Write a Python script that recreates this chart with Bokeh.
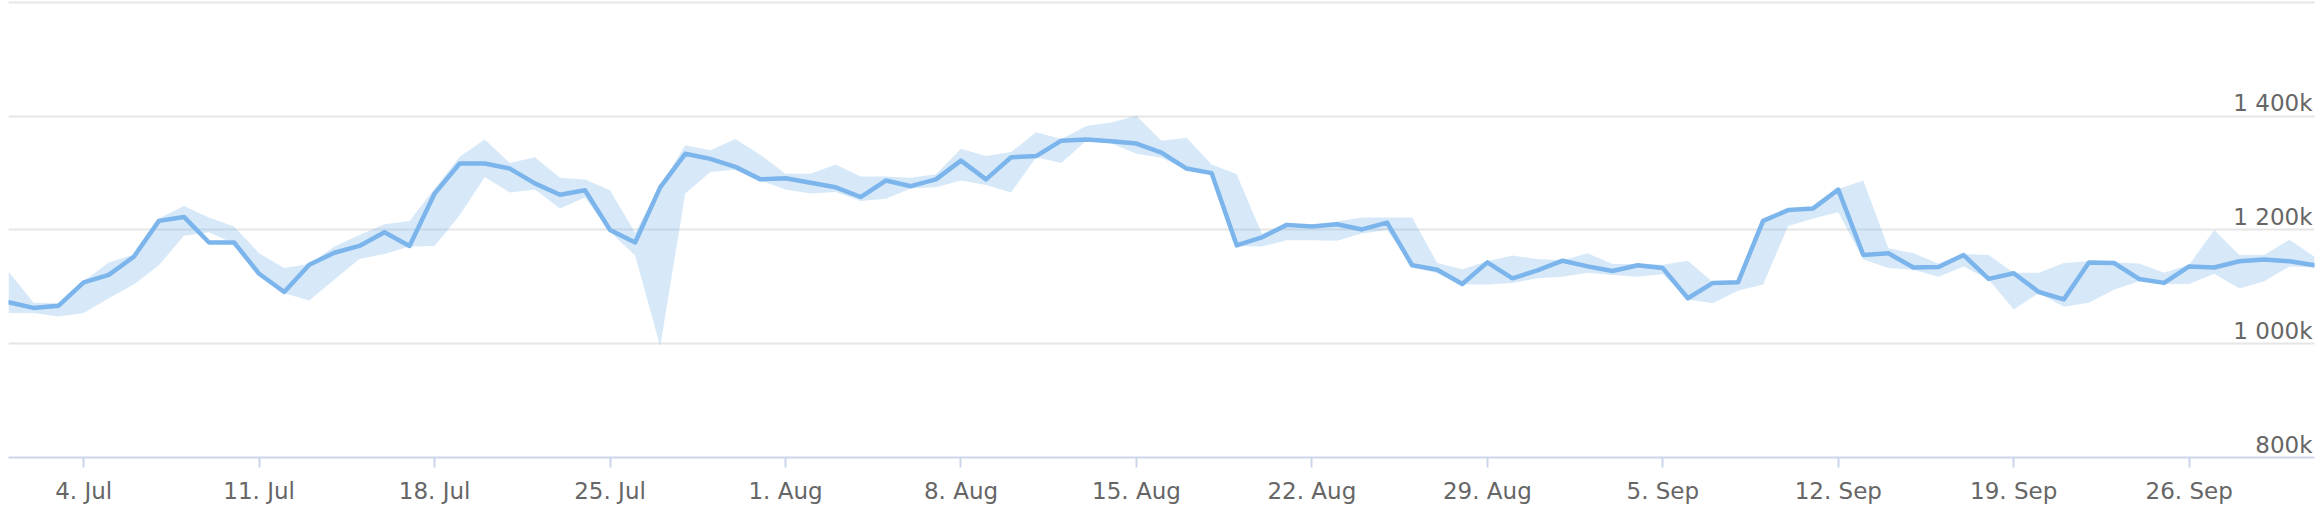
import pandas as pd
from bokeh.plotting import figure
from bokeh.models import FixedTicker, Range1d, ColumnDataSource, Grid
from bokeh.core.properties import value
from bokeh.embed import file_html
from bokeh.resources import INLINE

# ---- data (values in thousands) ----
start_date = "2022-07-01"

average = [
    1073, 1063, 1067, 1108, 1121, 1153, 1216, 1223, 1178, 1178, 1123, 1091,
    1139, 1160, 1172, 1196, 1172, 1264, 1317, 1317, 1308, 1282, 1262, 1270,
    1200, 1178, 1275, 1334, 1325, 1311, 1289,
    1291, 1283, 1275, 1258, 1287, 1277, 1289, 1322, 1289, 1328, 1330, 1357,
    1359, 1356, 1352, 1336, 1308, 1300, 1173, 1187, 1209, 1206, 1210, 1201,
    1213, 1138, 1130, 1105, 1143, 1115, 1129,
    1146, 1136, 1128, 1138, 1133, 1080, 1107, 1108, 1216, 1235, 1238, 1271,
    1156, 1159, 1134, 1135, 1156, 1114, 1124, 1091, 1078, 1143, 1142, 1114,
    1107, 1136, 1134, 1145, 1148, 1145,
    1138,
]

range_low = [
    1054, 1054, 1048, 1054, 1080, 1104, 1138, 1190, 1196, 1176, 1122, 1089,
    1076, 1113, 1149, 1158, 1171, 1172, 1226, 1293, 1266, 1271, 1238, 1257,
    1197, 1155, 995, 1264, 1302, 1306, 1287,
    1271, 1264, 1267, 1251, 1255, 1273, 1275, 1287, 1279, 1266, 1328, 1318,
    1357, 1352, 1334, 1327, 1305, 1298, 1172, 1171, 1182, 1182, 1181, 1194,
    1200, 1136, 1124, 1104, 1104, 1107, 1115,
    1118, 1125, 1121, 1118, 1122, 1078, 1071, 1093, 1104, 1207, 1220, 1231,
    1148, 1133, 1130, 1118, 1136, 1113, 1060, 1089, 1065, 1072, 1095, 1110,
    1105, 1105, 1123, 1097, 1110, 1136,
    1134,
]

range_high = [
    1127, 1072, 1071, 1110, 1143, 1157, 1220, 1242, 1222, 1206, 1159, 1133,
    1140, 1171, 1191, 1210, 1216, 1273, 1329, 1359, 1318, 1328, 1292, 1289,
    1270, 1195, 1278, 1349, 1340, 1360, 1332,
    1299, 1299, 1315, 1294, 1294, 1292, 1298, 1343, 1330, 1337, 1372, 1360,
    1383, 1389, 1401, 1357, 1362, 1315, 1298, 1194, 1211, 1208, 1215, 1222,
    1222, 1222, 1142, 1131, 1145, 1155, 1149,
    1147, 1159, 1140, 1140, 1139, 1146, 1108, 1109, 1217, 1238, 1241, 1272,
    1287, 1168, 1159, 1141, 1158, 1156, 1125, 1125, 1142, 1145, 1143, 1141,
    1125, 1139, 1200, 1156, 1156, 1183,
    1153,
]

grid_values = [800, 1000, 1200, 1400, 1600]
y_label_values = [800, 1000, 1200, 1400]
y_label_texts = ["800k", "1 000k", "1 200k", "1 400k"]

x_tick_dates = ["2022-07-04", "2022-07-11", "2022-07-18", "2022-07-25",
                "2022-08-01", "2022-08-08", "2022-08-15", "2022-08-22",
                "2022-08-29", "2022-09-05", "2022-09-12", "2022-09-19",
                "2022-09-26"]
x_tick_labels = ["4. Jul", "11. Jul", "18. Jul", "25. Jul", "1. Aug", "8. Aug",
                 "15. Aug", "22. Aug", "29. Aug", "5. Sep", "12. Sep",
                 "19. Sep", "26. Sep"]

# ---- build ----
dates = pd.date_range(start_date, periods=len(average), freq="D")
src = ColumnDataSource(dict(date=dates, avg=average, low=range_low, high=range_high))

FONT = "DejaVu Sans"
LABEL_COLOR = "#666666"
SERIES_COLOR = "#7cb5ec"

p = figure(
    frame_width=2306, frame_height=457,
    x_axis_type="datetime",
    x_range=Range1d(dates[0], dates[-1]),
    y_range=Range1d(800, 1603.5),
    y_axis_location=None,
    output_backend="svg", toolbar_location=None,
    min_border_left=8, min_border_right=10, min_border_top=0, min_border_bottom=0,
)
p.outline_line_color = None
p.xgrid.visible = False
p.background_fill_color = "white"

p.add_layout(Grid(dimension=1, ticker=FixedTicker(ticks=grid_values),
                  grid_line_color="#e6e6e6", grid_line_width=2))

p.varea(x="date", y1="low", y2="high", source=src,
        fill_color=SERIES_COLOR, fill_alpha=0.3)
p.line(x="date", y="avg", source=src, line_color=SERIES_COLOR, line_width=4.5,
       line_join="round", line_cap="round")

# x axis
tick_ms = [int(pd.Timestamp(d).value // 10**6) for d in x_tick_dates]
xa = p.xaxis[0]
xa.ticker = FixedTicker(ticks=tick_ms)
xa.major_label_overrides = {t: lab for t, lab in zip(tick_ms, x_tick_labels)}
xa.axis_line_color = "#ccd6eb"
xa.axis_line_width = 2
xa.major_tick_line_color = "#ccd6eb"
xa.major_tick_line_width = 2
xa.major_tick_out = 10
xa.major_tick_in = 0
xa.minor_tick_line_color = None
xa.major_label_standoff = 10
xa.major_label_text_font = FONT
xa.major_label_text_font_size = "23px"
xa.major_label_text_color = LABEL_COLOR

# y labels drawn inside plot area at the right, above grid lines
ysrc = ColumnDataSource(dict(x=[dates[-1]] * len(y_label_values),
                             y=y_label_values, text=y_label_texts))
p.text(x="x", y="y", text="text", source=ysrc,
       text_align="right", text_baseline="middle",
       x_offset=-2, y_offset=-13,
       text_font=value(FONT), text_font_size=value("23px"),
       text_color=LABEL_COLOR)

open("out.html", "w").write(file_html(p, INLINE))
